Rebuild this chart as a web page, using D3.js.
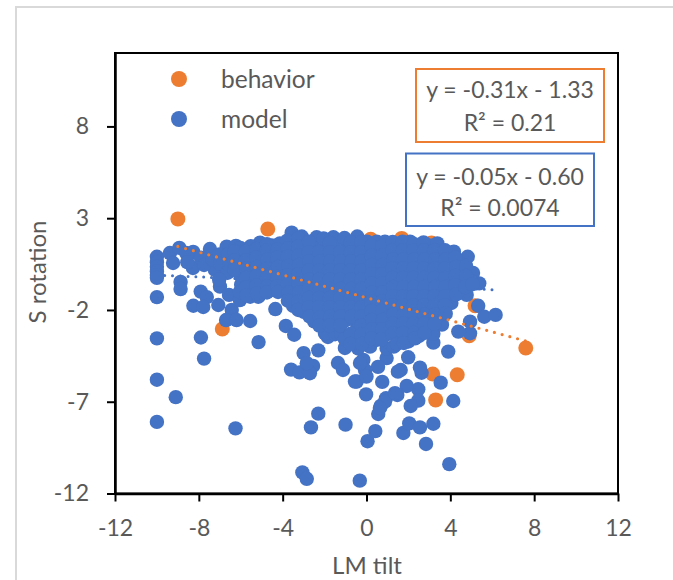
<!DOCTYPE html>
<html>
<head>
<meta charset="utf-8">
<script src="https://cdn.jsdelivr.net/npm/d3@7"></script>
<style>
  body { margin: 0; background: #fff; }
  svg { display: block; }
  text { font-family: Lato, "Open Sans", sans-serif; fill: #595959; }
</style>
</head>
<body>
<svg id="chart"></svg>
<script>
const width = 673, height = 580;
const margin = { top: 53, right: 55, bottom: 86.5, left: 115 };

const xTicks = [-12, -8, -4, 0, 4, 8, 12];
const yTicks = [-12, -7, -2, 3, 8];

// [LM tilt, S rotation]
const behaviorPoints = [
    [-9, 2.96], [-4.71, 2.41], [-6.88, -3.04], [3.16, -5.49], [4.33, -5.53], [3.3, -6.9],
    [7.6, -4.07], [4.9, -3.4], [5.18, -1.77], [1.68, 1.9], [3.1, 1.65], [0.2, 1.85]
];

const modelOutliers = [
    [-10, -1.3], [-10, -3.55], [-10, -5.8], [-10, -8.1], [-9.1, -6.75], [-7.9, -3.5], [-7.75, -4.65],
    [-6.25, -8.45], [-5.15, -3.75], [-5.55, -2.6], [-4.35, -1.95], [-3.85, -2.87], [-3.45, -3.35],
    [-2.3, -4.2], [-3, -4.35], [-2.55, -5.05], [-3.6, -5.25], [-3.2, -5.4], [-2.7, -5.45], [-2.85, -4.9],
    [-2.3, -7.65], [-2.65, -8.4], [-1, -8.25], [0.05, -9.15], [0.42, -8.6], [-3.06, -10.85], [-2.85, -11.2],
    [-0.32, -11.3], [3.95, -10.4], [2.84, -9.3], [1.76, -8.7], [2.04, -8.18], [2.55, -8.4], [3.19, -8.2],
    [4.14, -6.96], [3.54, -5.96], [2.63, -5.42], [2.55, -5.14], [1.63, -5.27], [0.75, -5.92], [-0.02, -6.6],
    [2.47, -6.32], [1.92, -6.14], [1.47, -6.63], [0.93, -6.81], [2.47, -6.94], [2.11, -7.23], [0.68, -7.23],
    [0.56, -7.67], [3.9, -4.27], [3.19, -3.78], [1.99, -4.58], [0.96, -4.62], [0.55, -5.1], [-0.15, -4.72],
    [-0.07, -5.27], [-0.47, -5.9], [4.94, -3.27], [4.38, -3.18], [4.94, -2.64], [5.33, -1.77], [5.62, -2.37],
    [6.16, -2.27], [-1.84, -3.47], [-1.03, -4.07], [-1.36, -4.89], [-1.12, -5.27], [-0.55, -5.9],
    [-0.31, -4.89], [0, -5.63], [0.88, -7], [1.36, -6.53], [0.64, -7.34], [1.5, -5.36], [0.17, -4]
];

const modelLeft = [
    [-10, 0.9], [-10, 0.6], [-10, 0.35], [-10, 0.1], [-10, -0.1], [-10, -0.25],
    [-9.38, 1.1], [-8.93, 1.38], [-9.23, 0.56], [-8.27, 1.16], [-7.47, 1.32], [-8.28, 0.29],
    [-8.87, -0.47], [-8.87, -0.86], [-7.91, -1], [-7.62, -1.3], [-8.26, -1.77], [-7.79, -1.84],
    [-6.99, -0.73], [-7.07, -1.73], [-6.43, -2], [-6.7, -2.55], [-6.2, -2.55], [-6.56, -1.18],
    [-6.67, 1.45], [-6.23, 1.49], [-5.08, 1.67], [-7.23, 0.18], [-6.04, -1.46], [-5.55, -1.28],
    [-5.16, -1.28], [-8.6, 1.1], [-8.55, 0.6], [-7.9, 0.85], [-7.75, 0.45], [-7.35, 0.75]
];

const modelBlob = [
    [-7.02, 1.03], [-6.98, 0.52], [-6.6, 1.02], [-6.55, 0.51], [-6.62, 0.03], [-7.03, -0.35],
    [-6.02, 1.38], [-5.97, 0.91], [-6.03, 0.42], [-6.01, -0.12], [-5.98, -0.62], [-6.05, -1.02],
    [-5.52, 1.48], [-5.47, 1.01], [-5.53, 0.52], [-5.48, 0.01], [-5.51, -0.52], [-5.49, -0.98],
    [-5.02, 1.12], [-4.98, 0.62], [-5.03, 0.11], [-4.97, -0.42], [-5.02, -0.9],
    [-4.52, 1.52], [-4.47, 1.02], [-4.53, 0.48], [-4.49, 0.01], [-4.51, -0.52], [-4.48, -0.9],
    [-4.13, 1.63], [-4.02, 1.08], [-3.98, 0.62], [-4.03, 0.08], [-3.97, -0.42], [-4.01, -0.88],
    [-3.57, 2.21], [-3.48, 1.72], [-3.52, 1.18], [-3.47, 0.72], [-3.53, 0.19], [-3.49, -0.31], [-3.51, -0.82], [-3.48, -1.31], [-3.5, -1.78],
    [-3.09, 2], [-3.02, 1.42], [-2.97, 0.91], [-3.03, 0.38], [-2.98, -0.12], [-3.01, -0.61], [-2.97, -1.12], [-3.02, -1.58], [-2.99, -2.1],
    [-2.38, 1.96], [-2.52, 1.41], [-2.47, 0.88], [-2.53, 0.41], [-2.48, -0.11], [-2.51, -0.62], [-2.47, -1.09], [-2.52, -1.61], [-2.49, -2.18], [-2.5, -2.62],
    [-2.02, 1.42], [-1.97, 0.92], [-2.03, 0.38], [-1.98, -0.12], [-2.01, -0.59], [-1.99, -1.12], [-2.02, -1.62], [-1.97, -2.13], [-2.01, -2.68], [-1.98, -3.28],
    [-1.58, 1.96], [-1.52, 1.41], [-1.47, 0.91], [-1.53, 0.39], [-1.49, -0.12], [-1.51, -0.61], [-1.48, -1.11], [-1.52, -1.62], [-1.47, -2.12], [-1.51, -2.61], [-1.49, -3.12], [-1.5, -3.32],
    [-1.02, 1.42], [-0.97, 0.88], [-1.03, 0.41], [-0.98, -0.11], [-1.01, -0.62], [-0.99, -1.09], [-1.02, -1.61], [-0.98, -2.12], [-1.03, -2.58], [-1.2, -3.3], [-1.03, -3.58],
    [-0.44, 2], [-0.52, 1.42], [-0.47, 0.91], [-0.53, 0.39], [-0.48, -0.11], [-0.51, -0.61], [-0.49, -1.12], [-0.52, -1.59], [-0.47, -2.11], [-0.51, -2.62], [-0.48, -3.11], [-0.52, -3.52], [-0.4, -4.1],
    [0.02, 1.72], [-0.03, 1.18], [0.03, 0.62], [-0.02, 0.11], [0.01, -0.42], [-0.03, -0.88], [0.02, -1.41], [-0.01, -1.92], [0.03, -2.38], [-0.02, -2.91], [0.01, -3.42],
    [0.49, 1.72], [0.52, 1.22], [0.47, 0.68], [0.53, 0.18], [0.48, -0.32], [0.51, -0.81], [0.47, -1.32], [0.52, -1.83], [0.49, -2.32], [0.53, -2.82], [0.47, -3.32], [0.51, -3.62],
    [0.88, 1.72], [1.02, 1.22], [0.98, 0.72], [1.03, 0.21], [0.97, -0.31], [1.02, -0.79], [0.98, -1.31], [1.03, -1.78], [0.97, -2.32], [1.01, -2.81], [0.98, -3.32], [0.96, -4.1],
    [1.52, 1.52], [1.47, 1.02], [1.53, 0.48], [1.48, 0.01], [1.51, -0.52], [1.47, -1.02], [1.52, -1.48], [1.49, -2.02], [1.53, -2.52], [1.48, -3.02], [1.51, -3.52], [1.3, -4],
    [2.08, 1.72], [2.02, 1.18], [1.98, 0.68], [2.03, 0.21], [1.97, -0.32], [2.02, -0.78], [1.98, -1.32], [2.01, -1.82], [1.97, -2.32], [2.03, -2.81], [1.98, -3.32], [2, -3.72],
    [2.52, 1.52], [2.47, 1.02], [2.53, 0.51], [2.48, 0.02], [2.51, -0.48], [2.47, -1.02], [2.52, -1.51], [2.49, -2.02], [2.53, -2.52], [2.48, -3.02], [2.51, -3.42],
    [2.98, 1.52], [3.02, 1.02], [2.97, 0.51], [3.03, -0.02], [2.98, -0.52], [3.02, -1.01], [2.97, -1.48], [3.01, -2.02], [2.98, -2.52], [3.02, -3.02], [3.19, -3.3],
    [3.38, 1.63], [3.52, 1.02], [3.47, 0.52], [3.53, 0.02], [3.48, -0.48], [3.52, -1.02], [3.47, -1.52], [3.51, -2.02], [3.48, -2.52], [3.6, -2.8],
    [4.17, 1.18], [3.98, 0.68], [4.03, 0.18], [3.97, -0.32], [4.02, -0.82], [3.98, -1.32], [4.05, -1.62],
    [4.83, 0.9], [4.48, 0.52], [4.52, 0.02], [4.47, -0.48], [4.52, -0.92], [4.78, -1.18],
    [5.08, 0.02], [5.38, -0.55], [4.98, -0.42]
];

// Second pass over the dense middle, where the markers pile up into one mass
const modelDense = [
    [-6.3, 1.2], [-6.28, 0.7], [-6.3, 0.2], [-5.75, 1.18], [-5.75, 0.7], [-5.72, 0.25], [-5.75, -0.25], [-5.75, -0.78], [-5.72, -1.2],
    [-5.25, 1.32], [-5.25, 0.85], [-5.22, 0.35], [-5.25, -0.15], [-5.25, -0.68], [-5.22, -1.1],
    [-4.75, 1.58], [-4.75, 1.25], [-4.72, 0.75], [-4.75, 0.25], [-4.75, -0.25], [-4.72, -0.72], [-4.75, -1.05],
    [-4.25, 1.3], [-4.25, 0.85], [-4.22, 0.35], [-4.25, -0.2], [-4.25, -0.7], [-4.22, -1.02],
    [-3.78, 1.78], [-3.75, 1.35], [-3.75, 0.9], [-3.72, 0.4], [-3.75, -0.1], [-3.75, -0.6], [-3.72, -1.05], [-3.75, -1.5],
    [-3.25, 1.9], [-3.25, 1.45], [-3.25, 0.95], [-3.22, 0.45], [-3.25, -0.05], [-3.25, -0.55], [-3.22, -1.05], [-3.25, -1.55], [-3.25, -2],
    [-2.75, 1.72], [-2.75, 1.15], [-2.72, 0.65], [-2.75, 0.15], [-2.75, -0.35], [-2.72, -0.85], [-2.75, -1.35], [-2.75, -1.85], [-2.72, -2.35],
    [-2.05, 1.9], [-2.25, 1.15], [-2.22, 0.65], [-2.25, 0.15], [-2.25, -0.35], [-2.22, -0.85], [-2.25, -1.35], [-2.25, -1.85], [-2.22, -2.4], [-2.25, -2.85],
    [-1.75, 1.65], [-1.75, 1.15], [-1.72, 0.65], [-1.75, 0.15], [-1.75, -0.35], [-1.72, -0.85], [-1.75, -1.35], [-1.75, -1.85], [-1.72, -2.35], [-1.75, -2.85],
    [-1.05, 1.92], [-1.25, 1.15], [-1.22, 0.65], [-1.25, 0.15], [-1.25, -0.35], [-1.22, -0.85], [-1.25, -1.35], [-1.25, -1.85], [-1.22, -2.35], [-1.25, -2.85],
    [-0.75, 1.7], [-0.75, 1.15], [-0.72, 0.65], [-0.75, 0.15], [-0.75, -0.35], [-0.72, -0.85], [-0.75, -1.35], [-0.75, -1.85], [-0.72, -2.35], [-0.75, -3.3], [-0.75, -3.85],
    [-0.25, 1.7], [-0.25, 1.15], [-0.22, 0.65], [-0.25, 0.15], [-0.25, -0.35], [-0.22, -0.85], [-0.25, -1.35], [-0.25, -1.85], [-0.22, -2.35], [-0.25, -2.85], [-0.25, -3.35], [-0.22, -3.85],
    [0.25, 1.5], [0.25, 0.95], [0.28, 0.45], [0.25, -0.05], [0.25, -0.55], [0.28, -1.05], [0.25, -1.55], [0.25, -2.05], [0.28, -2.55], [0.25, -3.05], [0.25, -3.55],
    [0.75, 1.5], [0.75, 0.95], [0.78, 0.45], [0.75, -0.05], [0.75, -0.55], [0.78, -1.05], [0.75, -1.55], [0.75, -2.05], [0.78, -2.55], [0.75, -3.05], [0.72, -3.6],
    [1.25, 1.7], [1.25, 1.25], [1.28, 0.75], [1.25, 0.25], [1.25, -0.25], [1.28, -0.75], [1.25, -1.25], [1.25, -1.75], [1.28, -2.25], [1.25, -2.75], [1.25, -3.3], [1.45, -3.85],
    [1.72, 1.72], [1.75, 1.25], [1.78, 0.75], [1.75, 0.25], [1.75, -0.25], [1.78, -0.75], [1.75, -1.25], [1.75, -1.75], [1.78, -2.25], [1.75, -2.75], [1.75, -3.25], [1.78, -3.8],
    [2.25, 1.6], [2.25, 1.25], [2.28, 0.75], [2.25, 0.25], [2.25, -0.25], [2.28, -0.75], [2.25, -1.25], [2.25, -1.75], [2.28, -2.25], [2.25, -2.75], [2.28, -3.25], [2.32, -3.55],
    [2.72, 1.68], [2.75, 1.25], [2.78, 0.75], [2.75, 0.25], [2.75, -0.25], [2.78, -0.75], [2.75, -1.25], [2.75, -1.75], [2.78, -2.25], [2.75, -2.75], [2.78, -3.25],
    [3.25, 1.25], [3.28, 0.75], [3.25, 0.25], [3.25, -0.25], [3.28, -0.75], [3.25, -1.25], [3.25, -1.75], [3.28, -2.25], [3.25, -2.75],
    [3.75, 1.25], [3.78, 0.75], [3.75, 0.25], [3.75, -0.25], [3.78, -0.75], [3.75, -1.25], [3.75, -1.75], [3.78, -2.2],
    [4.25, 0.85], [4.28, 0.35], [4.25, -0.15], [4.25, -0.65], [4.28, -1.15], [4.75, 0.4], [4.75, -0.15], [4.72, -0.75], [5.05, -0.6]
];

const modelPoints = [...modelOutliers, ...modelLeft, ...modelBlob, ...modelDense];

// Trend line ends, from the fitted equations in the boxes
const behaviorTrend = [[-9, 1.46], [7.6, -3.69]];
const modelTrend = [[-10, -0.1], [6.1, -0.9]];

const legendNames = ["behavior", "model"];
const behaviorLabel = ["y = -0.31x - 1.33", "R² = 0.21"];
const modelLabel = ["y = -0.05x - 0.60", "R² = 0.0074"];

const orange = "#ed7d31", blue = "#4472c4";

const svg = d3.select("#chart")
    .attr("width", width)
    .attr("height", height)
    .attr("viewBox", [0, 0, width, height]);

// Outer chart border, runs off the right and bottom of the crop
svg.append("path")
    .attr("d", `M16,${height}V7H${width}`)
    .attr("fill", "none")
    .attr("stroke", "#d9d9d9")
    .attr("stroke-width", 2);

const xScale = d3.scaleLinear().domain([-12, 12]).range([margin.left, width - margin.right]);
const yScale = d3.scaleLinear().domain([-12, 12]).range([height - margin.bottom, margin.top]);

// Points, behaviour underneath the model
svg.append("g").selectAll("circle")
    .data(behaviorPoints)
    .enter()
    .append("circle")
    .attr("cx", d => xScale(d[0]))
    .attr("cy", d => yScale(d[1]))
    .attr("r", 7.5)
    .attr("fill", orange);

const lineGenerator = d3.line()
    .x(d => xScale(d[0]))
    .y(d => yScale(d[1]));

svg.append("path")
    .attr("d", lineGenerator(modelTrend))
    .attr("fill", "none")
    .attr("stroke", blue)
    .attr("stroke-width", 3)
    .attr("stroke-linecap", "round")
    .attr("stroke-dasharray", "0,7.8");

svg.append("g").selectAll("circle")
    .data(modelPoints)
    .enter()
    .append("circle")
    .attr("cx", d => xScale(d[0]))
    .attr("cy", d => yScale(d[1]))
    .attr("r", 7.2)
    .attr("fill", blue);

svg.append("path")
    .attr("d", lineGenerator(behaviorTrend))
    .attr("fill", "none")
    .attr("stroke", orange)
    .attr("stroke-width", 3.2)
    .attr("stroke-linecap", "round")
    .attr("stroke-dasharray", "0,8");

// Plot frame
svg.append("rect")
    .attr("x", margin.left)
    .attr("y", margin.top)
    .attr("width", width - margin.left - margin.right)
    .attr("height", height - margin.top - margin.bottom)
    .attr("fill", "none")
    .attr("stroke", "#000")
    .attr("stroke-width", 2);

// Axes, plain hyphen in the labels like the original
const xAxis = svg.append("g")
    .attr("transform", `translate(0,${height - margin.bottom})`)
    .call(d3.axisBottom(xScale).tickValues(xTicks).tickFormat(d => String(d)).tickSize(8).tickSizeOuter(0).tickPadding(18));

const yAxis = svg.append("g")
    .attr("transform", `translate(${margin.left},0)`)
    .call(d3.axisLeft(yScale).tickValues(yTicks).tickFormat(d => String(d)).tickSize(8).tickSizeOuter(0).tickPadding(18));

[xAxis, yAxis].forEach(axis => {
    axis.select(".domain").attr("stroke", "#000").attr("stroke-width", 2.5);
    axis.selectAll(".tick line").attr("stroke", "#000").attr("stroke-width", 2);
    axis.selectAll("text")
        .attr("fill", "#595959")
        .style("font-family", "Lato, 'Open Sans', sans-serif")
        .style("font-size", "23px");
});

svg.append("text")
    .attr("x", 367)
    .attr("y", 574)
    .attr("text-anchor", "middle")
    .style("font-size", "24px")
    .text("LM tilt");

svg.append("text")
    .attr("transform", "translate(46,272) rotate(-90)")
    .attr("text-anchor", "middle")
    .style("font-size", "24px")
    .text("S rotation");

// Legend
const legendY = d3.scalePoint().domain(legendNames).range([79, 119]);
const legendColor = d3.scaleOrdinal().domain(legendNames).range([orange, blue]);

legendNames.forEach(name => {
    svg.append("circle")
        .attr("cx", 179)
        .attr("cy", legendY(name))
        .attr("r", 8)
        .attr("fill", legendColor(name));
    svg.append("text")
        .attr("x", 221)
        .attr("y", legendY(name) + 9)
        .style("font-size", "24.5px")
        .text(name);
});

// Equation boxes
function equationBox(x, y, w, h, color, lines, baselines) {
    svg.append("rect")
        .attr("x", x)
        .attr("y", y)
        .attr("width", w)
        .attr("height", h)
        .attr("fill", "#fff")
        .attr("stroke", color)
        .attr("stroke-width", 2);
    lines.forEach((line, i) => {
        svg.append("text")
            .attr("x", x + w / 2)
            .attr("y", baselines[i])
            .attr("text-anchor", "middle")
            .style("font-size", "23px")
            .text(line);
    });
}

equationBox(416, 69, 188, 73, orange, behaviorLabel, [98, 131]);
equationBox(406, 153.5, 188, 72.5, blue, modelLabel, [185, 216]);
</script>
</body>
</html>
